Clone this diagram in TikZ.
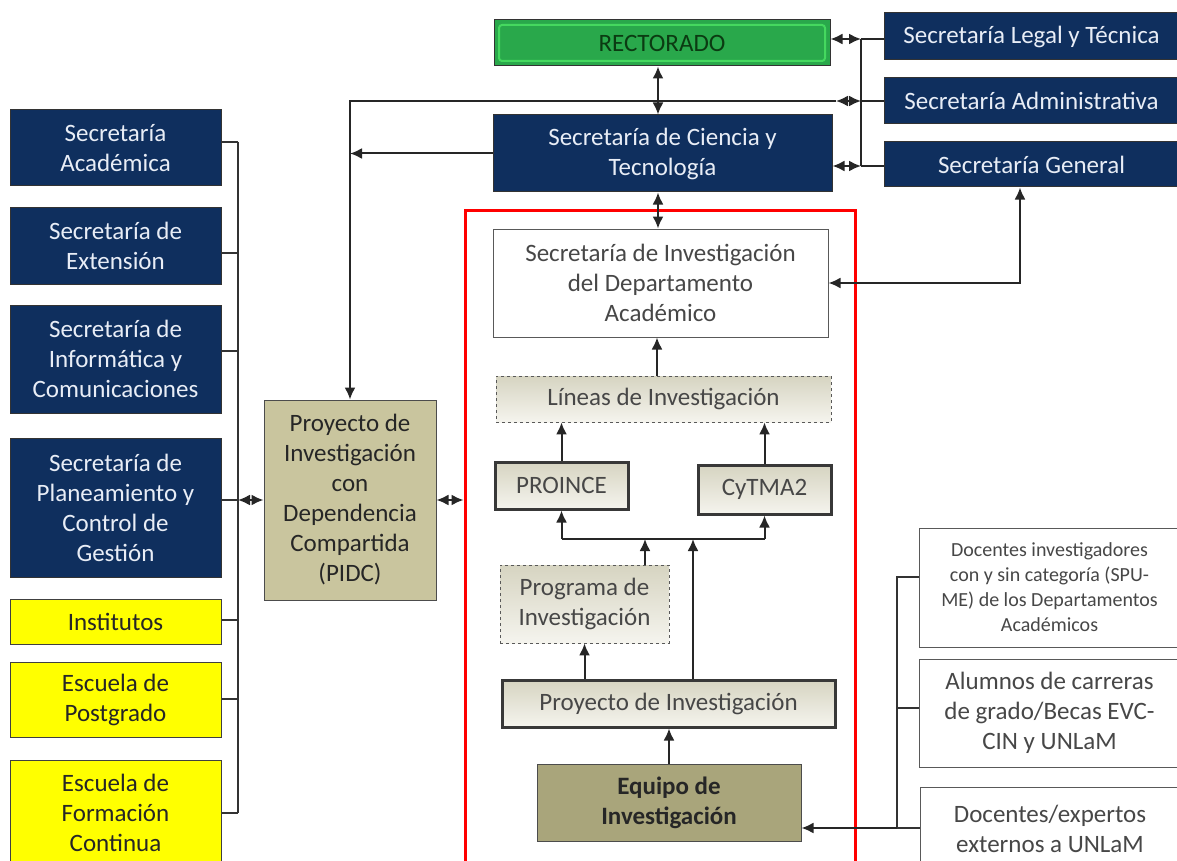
\documentclass[tikz,border=0pt]{standalone}
\usepackage{fontspec}
\setmainfont{Carlito}
\usetikzlibrary{arrows.meta}
\definecolor{navy}{HTML}{0F2F5E}
\definecolor{navytext}{HTML}{E8EDF6}
\definecolor{yel}{HTML}{FFFF00}
\definecolor{pidcfill}{HTML}{C9C59E}
\definecolor{equipofill}{HTML}{A9A57B}
\definecolor{gtop}{HTML}{D6D4C1}
\definecolor{gbot}{HTML}{F5F4EE}
\definecolor{rectfill}{HTML}{29A84B}
\definecolor{rectline}{HTML}{45D85F}
\definecolor{recttext}{HTML}{0B3B12}
\newcommand\fsA{\fontsize{25}{30}\selectfont}
\newcommand\fsB{\fontsize{20}{25}\selectfont}
\begin{document}
\begin{tikzpicture}[x=1pt,y=-1pt,
  base/.style={rectangle, inner sep=2pt, align=center, font=\fsA},
  navybox/.style={base, draw=black!80, fill=navy, text=navytext, line width=1pt},
  yelbox/.style={base, draw=black!75, fill=yel, text=black!85, line width=1pt},
  graybox/.style={base, draw=black!65, fill=white, text=black!72, line width=1pt},
  gradbox/.style={base, top color=gtop, bottom color=gbot, text=black!72},
  thickbox/.style={gradbox, draw=black!78, line width=3pt},
  dashbox/.style={gradbox, draw=black!65, dashed, line width=0.8pt},
  conn/.style={line width=2pt, draw=black!85},
  thin/.style={line width=1.5pt, draw=black!80},
  arr/.style={conn, -{Latex[length=12pt,width=11pt]}},
  dbl/.style={conn, {Latex[length=12pt,width=11pt]}-{Latex[length=12pt,width=11pt]}}
]
\useasboundingbox (0,0) rectangle (1177,861);
\fill[white] (0,0) rectangle (1177,861);

% top centre
\node[base, draw=black!80, fill=rectfill, text=recttext, line width=1pt,
      minimum width=336, minimum height=46] (rect) at (662,43) {RECTORADO};
\draw[rectline, line width=2pt, rounded corners=3pt] (499,25) rectangle (825,61);
\node[navybox, minimum width=339, minimum height=77] (ciencia) at (662.5,153.5) {Secretaría de Ciencia y\\Tecnología};

% top right
\node[navybox, minimum width=295, minimum height=47] (legal) at (1031.5,36.5) {Secretaría Legal y Técnica};
\node[navybox, minimum width=295, minimum height=46] (admin) at (1031.5,101) {Secretaría Administrativa};
\node[navybox, minimum width=295, minimum height=45] (general) at (1031.5,164.5) {Secretaría General};

% left column
\node[navybox, minimum width=211, minimum height=76] (acad) at (115.5,148) {Secretaría\\Académica};
\node[navybox, minimum width=211, minimum height=77] (ext) at (115.5,245.5) {Secretaría de\\Extensión};
\node[navybox, minimum width=211, minimum height=108] (inf) at (115.5,359) {Secretaría de\\Informática y\\Comunicaciones};
\node[navybox, minimum width=211, minimum height=139] (plan) at (115.5,507.5) {Secretaría de\\Planeamiento y\\Control de\\Gestión};
\node[yelbox, minimum width=211, minimum height=45] (inst) at (115.5,621.5) {Institutos};
\node[yelbox, minimum width=211, minimum height=75] (post) at (115.5,699.5) {Escuela de\\Postgrado};
\node[yelbox, minimum width=211, minimum height=105] (form) at (115.5,812.5) {Escuela de\\Formación\\Continua};

% PIDC
\node[base, draw=black!70, fill=pidcfill, text=black!85, line width=1pt,
      minimum width=172, minimum height=200] (pidc) at (350,500) {Proyecto de\\Investigación\\con\\Dependencia\\Compartida\\(PIDC)};

% red frame
\node[draw=red, line width=3pt, minimum width=390, minimum height=660, inner sep=0] (redbox) at (660,540) {};

% inside red frame
\node[graybox, minimum width=335, minimum height=108] (secinv) at (660.5,283) {Secretaría de Investigación\\del Departamento\\Académico};
\node[dashbox, minimum width=335, minimum height=46] (lineas) at (663.5,399) {Líneas de Investigación};
\node[thickbox, minimum width=133, minimum height=47] (proince) at (561.5,485.5) {PROINCE};
\node[thickbox, minimum width=133, minimum height=49] (cytma) at (764.5,489.5) {CyTMA2};
\node[dashbox, minimum width=169, minimum height=78] (programa) at (584.5,604) {Programa de\\Investigación};
\node[thickbox, minimum width=333, minimum height=47] (proyecto) at (668.5,703.5) {Proyecto de Investigación};
\node[base, draw=black!70, fill=equipofill, text=black!85, line width=1pt,
      minimum width=264, minimum height=77, font=\fsA\bfseries] (equipo) at (669,802.5) {Equipo de\\Investigación};

% right bottom
\node[graybox, font=\fsB, minimum width=261, minimum height=119] (doc) at (1049.5,587.5) {Docentes investigadores\\con y sin categoría (SPU-\\ME) de los Departamentos\\Académicos};
\node[graybox, minimum width=261, minimum height=108] (alum) at (1049.5,713) {Alumnos de carreras\\de grado/Becas EVC-\\CIN y UNLaM};
\node[graybox, minimum width=260, minimum height=83] (extern) at (1050,828.5) {Docentes/expertos\\externos a UNLaM};

% helper coordinates
\coordinate (b1) at (861,39);
\coordinate (b2) at (861,101);
\coordinate (b3) at (861,166);
\coordinate (a2) at (836,101);
\coordinate (x658) at (658,0);
\coordinate (x657) at (657,0);
\coordinate (x645) at (645,0);
\coordinate (x693) at (693,0);
\coordinate (x1020) at (1020,0);
\coordinate (j) at (0,539);
\coordinate (rb1) at (897,577);
\coordinate (rb2) at (897,708);
\coordinate (rb3) at (897,828);
\coordinate (lb1) at (238,142);
\coordinate (lb2) at (238,253);
\coordinate (lb3) at (238,351);
\coordinate (lb4) at (238,500);
\coordinate (lb5) at (238,620);
\coordinate (lb6) at (238,699);
\coordinate (lb7) at (238,813);

% top right bus
\draw[dbl] (rect.east |- b1) -- (b1);
\draw[conn] (b1) -- (legal.west |- b1);
\draw[conn] (b1) -- (b3);
\draw[conn] (b3) -- (general.west |- b3);
\draw[dbl] (ciencia.east |- b3) -- (b3);
\draw[conn] (b2) -- (admin.west |- b2);
\draw[dbl] (a2) -- (b2);
\draw[arr] (a2) -| (pidc.north);
\draw[arr] (ciencia.west) -- (ciencia.west -| pidc.north);

% vertical centre
\draw[dbl] (rect.south -| x658) -- (ciencia.north -| x658);
\draw[dbl] (ciencia.south -| x658) -- (secinv.north -| x658);
\draw[dbl] (general.south -| x1020) |- (secinv.east);

% inside frame
\draw[arr] (lineas.north -| x657) -- (secinv.south -| x657);
\draw[arr] (proince.north) -- (proince.north |- lineas.south);
\draw[arr] (cytma.north) -- (cytma.north |- lineas.south);
\draw[conn] (proince.south |- j) -- (cytma.south |- j);
\draw[arr] (proince.south |- j) -- (proince.south);
\draw[arr] (cytma.south |- j) -- (cytma.south);
\draw[arr] (programa.north -| x645) -- (x645 |- j);
\draw[arr] (proyecto.north -| x693) -- (x693 |- j);
\draw[arr] (programa.south |- proyecto.north) -- (programa.south);
\draw[arr] (equipo.north) -- (equipo.north |- proyecto.south);

% right bottom bus
\draw[thin] (doc.west |- rb1) -- (rb1) -- (rb3);
\draw[thin] (alum.west |- rb2) -- (rb2);
\draw[thin] (extern.west |- rb3) -- (rb3);
\draw[arr] (rb3) -- (equipo.east |- rb3);

% left bus
\draw[thin] (lb1) -- (lb7);
\draw[thin] (acad.east |- lb1) -- (lb1);
\draw[thin] (ext.east |- lb2) -- (lb2);
\draw[thin] (inf.east |- lb3) -- (lb3);
\draw[thin] (plan.east |- lb4) -- (lb4);
\draw[thin] (inst.east |- lb5) -- (lb5);
\draw[thin] (post.east |- lb6) -- (lb6);
\draw[thin] (form.east |- lb7) -- (lb7);
\draw[dbl] (lb4) -- (pidc.west);
\draw[dbl] (pidc.east) -- (redbox.west |- pidc.east);
\end{tikzpicture}
\end{document}
